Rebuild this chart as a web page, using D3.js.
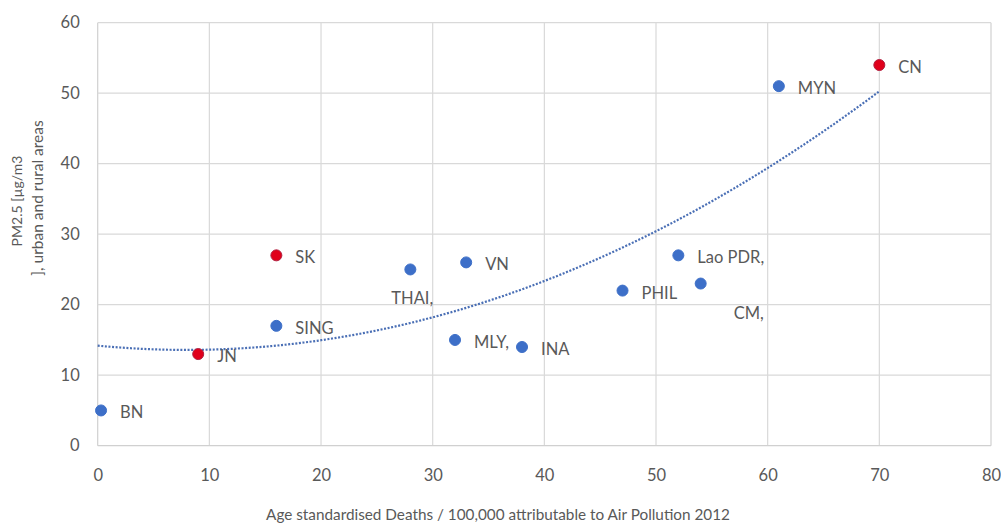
<!DOCTYPE html>
<html><head><meta charset="utf-8">
<script src="https://cdn.jsdelivr.net/npm/d3@7"></script>
<style>
body{margin:0;background:#fff;}
svg text{font-family:"Lato","Open Sans",sans-serif;fill:#595959;}
</style></head>
<body><svg id="c" width="1001" height="524"></svg>
<script>
// Data
const countries = ["BN","JN","SK","SING","THAI,","VN","MLY,","INA","PHIL","Lao PDR,","CM,","MYN","CN"];
const deaths    = [0.3, 9, 16, 16, 28, 33, 32, 38, 47, 52, 54, 61, 70];
const pm25      = [5, 13, 27, 17, 25, 26, 15, 14, 22, 27, 23, 51, 54];
const highlight = [false,true,true,false,false,false,false,false,false,false,false,false,true];
const xTicks = [0,10,20,30,40,50,60,70,80];
const yTicks = [0,10,20,30,40,50,60];
const xTitle = "Age  standardised Deaths / 100,000 attributable to Air Pollution  2012";
const yTitle1 = "PM2.5 [µg/m3";
const yTitle2 = "], urban and rural areas";

const svg = d3.select("#c");
const x = d3.scaleLinear().domain([0,80]).range([97.7,991]);
const y = d3.scaleLinear().domain([0,60]).range([445.7,22.7]);

// grid
svg.append("g").selectAll("line.v").data(xTicks).join("line")
  .attr("x1",d=>x(d)).attr("x2",d=>x(d)).attr("y1",y(0)).attr("y2",y(60))
  .attr("stroke",d=>d===0||d===80?"#d0d0d0":"#d9d9d9").attr("stroke-width",1.2);
svg.append("g").selectAll("line.h").data(yTicks).join("line")
  .attr("x1",x(0)).attr("x2",x(80)).attr("y1",d=>y(d)).attr("y2",d=>y(d))
  .attr("stroke",d=>d===0?"#d0d0d0":"#d9d9d9").attr("stroke-width",1.2);

// axes labels via d3 axes
const xAxis = svg.append("g").attr("transform",`translate(0,${y(0)})`)
  .call(d3.axisBottom(x).tickValues(xTicks).tickSize(0).tickPadding(24));
xAxis.select(".domain").remove();
xAxis.selectAll("text").attr("font-size",16.5).style("font-family","Lato, sans-serif").attr("fill","#595959");
const yAxis = svg.append("g").attr("transform",`translate(${x(0)},0)`)
  .call(d3.axisLeft(y).tickValues(yTicks).tickSize(0).tickPadding(18));
yAxis.select(".domain").remove();
yAxis.selectAll("text").attr("font-size",16.5).style("font-family","Lato, sans-serif").attr("fill","#595959");

// titles
svg.append("text").attr("x",498).attr("y",520).attr("text-anchor","middle")
  .attr("font-size",15.3).text(xTitle);
svg.append("text").attr("transform","translate(22,201) rotate(-90)").attr("text-anchor","middle")
  .attr("font-size",14).text(yTitle1);
svg.append("text").attr("transform","translate(43,198) rotate(-90)").attr("text-anchor","middle")
  .attr("font-size",15.5).text(yTitle2);

// quadratic least squares trendline (Excel-style polynomial order 2)
function polyfit2(xs, ys){
  let S=[0,0,0,0,0], T=[0,0,0];
  xs.forEach((xi,i)=>{for(let k=0;k<5;k++)S[k]+=Math.pow(xi,k);for(let k=0;k<3;k++)T[k]+=ys[i]*Math.pow(xi,k);});
  const A=[[S[0],S[1],S[2],T[0]],[S[1],S[2],S[3],T[1]],[S[2],S[3],S[4],T[2]]];
  for(let i=0;i<3;i++){for(let j=i+1;j<3;j++){const f=A[j][i]/A[i][i];for(let k=i;k<4;k++)A[j][k]-=f*A[i][k];}}
  const c=[0,0,0];
  for(let i=2;i>=0;i--){let s=A[i][3];for(let k=i+1;k<3;k++)s-=A[i][k]*c[k];c[i]=s/A[i][i];}
  return c;
}
const coef = polyfit2(deaths, pm25);
const trendX = d3.range(0, 70.01, 0.5);
svg.append("path").datum(trendX)
  .attr("d", d3.line().x(d=>x(d)).y(d=>y(coef[0]+coef[1]*d+coef[2]*d*d)))
  .attr("fill","none").attr("stroke","#4a6fb5").attr("stroke-width",2.2)
  .attr("stroke-dasharray","2,1.6");

// points
const pts = countries.map((c,i)=>({c,x:deaths[i],y:pm25[i],h:highlight[i]}));
svg.append("g").selectAll("circle").data(pts).join("circle")
  .attr("cx",d=>x(d.x)).attr("cy",d=>y(d.y)).attr("r",5.5)
  .attr("fill",d=>d.h?"#e0001b":"#3d6fc8")
  .attr("stroke",d=>d.h?"#b02040":"#3d6fc8").attr("stroke-width",1);

// labels
const off = {"THAI,":[-19,35],"CM,":[33,35]};
svg.append("g").selectAll("text").data(pts).join("text")
  .attr("x",d=>x(d.x)+(off[d.c]?off[d.c][0]:19))
  .attr("y",d=>y(d.y)+(off[d.c]?off[d.c][1]:8))
  .attr("font-size",16.5).text(d=>d.c);
</script></body></html>
